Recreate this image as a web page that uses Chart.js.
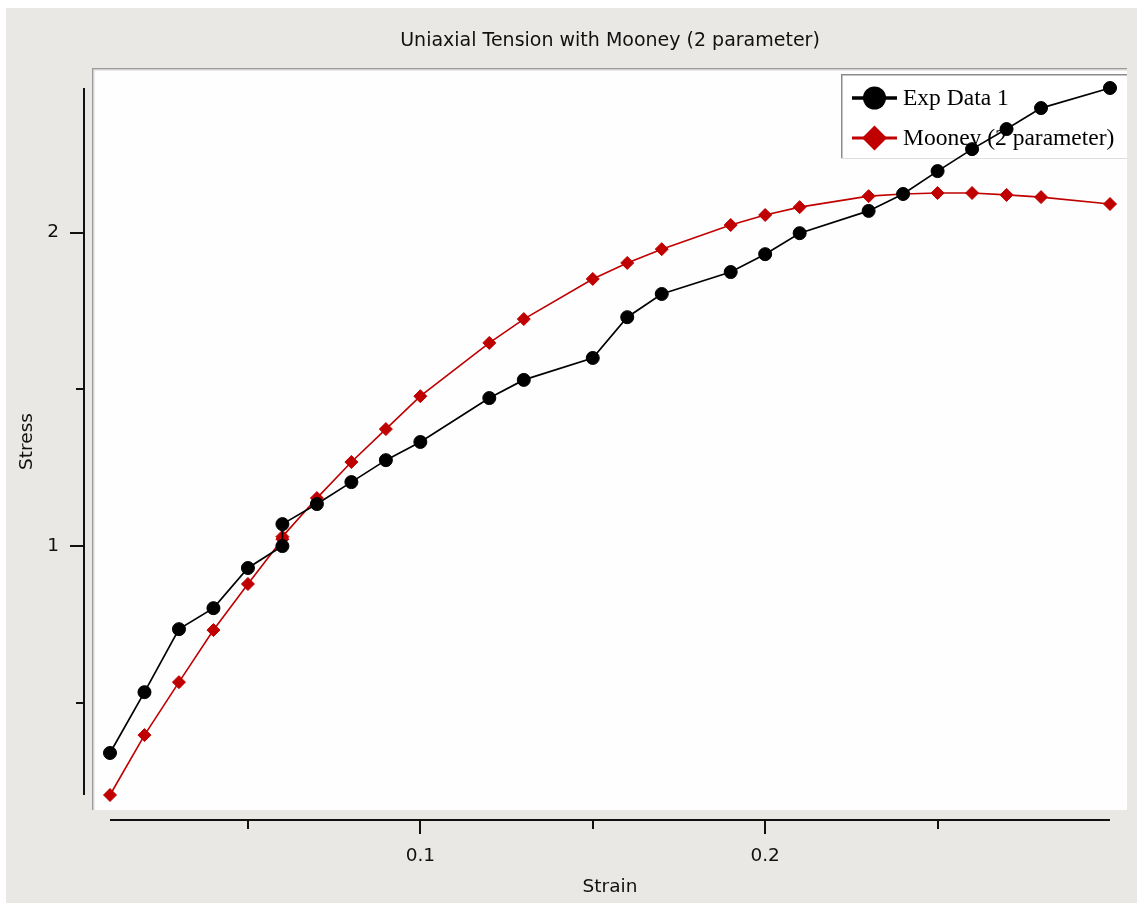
<!DOCTYPE html>
<html><head><meta charset="utf-8">
<style>html,body{margin:0;padding:0;background:#fff;overflow:hidden}canvas{display:block}</style>
<script src="https://cdn.jsdelivr.net/npm/chart.js@4.4.1/dist/chart.umd.min.js"></script>
</head><body>
<canvas id="c" width="1137" height="903"></canvas>
<script>
// ---- data ----
const strain = [0.01,0.02,0.03,0.04,0.05,0.06,0.06,0.07,0.08,0.09,0.10,0.12,0.13,0.15,0.16,0.17,0.19,0.20,0.21,0.23,0.24,0.25,0.26,0.27,0.28,0.30];
const expData = [0.340,0.534,0.735,0.802,0.930,1.000,1.070,1.134,1.204,1.274,1.332,1.472,1.530,1.600,1.730,1.804,1.874,1.931,1.998,2.069,2.123,2.196,2.266,2.330,2.397,2.461];
const mooneyData = [0.206,0.397,0.566,0.732,0.879,1.022,1.030,1.153,1.268,1.373,1.478,1.648,1.724,1.852,1.903,1.947,2.024,2.056,2.081,2.116,2.123,2.126,2.126,2.120,2.113,2.091];
const seriesLabels = ['Exp Data 1', 'Mooney (2 parameter)'];
const xMajorTicks = [0.1, 0.2];
const xTickLabels = ['0.1', '0.2'];
const xMinorTicks = [0.05, 0.15, 0.25];
const yMajorTicks = [1, 2];
const yTickLabels = ['1', '2'];
const yMinorTicks = [0.5, 1.5];
const chartTitle = 'Uniaxial Tension with Mooney (2 parameter)';
const xTitle = 'Strain';
const yTitle = 'Stress';

const SANS = "'DejaVu Sans', Verdana, sans-serif";
const SERIF = "'Liberation Serif', 'Times New Roman', serif";
Chart.defaults.font.family = SANS;
Chart.defaults.color = '#111';

const allY = expData.concat(mooneyData);
const toXY = ys => strain.map((x, i) => ({x: x, y: ys[i]}));
const tickList = (major, minor) => major.map(v => ({value: v, major: true}))
  .concat(minor.map(v => ({value: v, major: false})))
  .sort((p, q) => p.value - q.value);

const framePlugin = {
  id: 'frame',
  beforeDraw(chart) {
    const {ctx, chartArea: a, width, height} = chart;
    ctx.save();
    ctx.fillStyle = '#ffffff'; ctx.fillRect(0, 0, width, height);
    ctx.fillStyle = '#e9e8e4'; ctx.fillRect(6, 8, width - 6, height - 8);
    const L = a.left - 18, T = a.top - 20, R = a.right + 17, B = a.bottom + 15;
    ctx.fillStyle = '#fefefe'; ctx.fillRect(L, T, R - L, B - T);
    ctx.fillStyle = '#9a9a9a'; ctx.fillRect(L, T, R - L, 1.5); ctx.fillRect(L, T, 1.5, B - T);
    ctx.fillStyle = '#d6d6d6'; ctx.fillRect(L + 1.5, T + 1.5, R - L - 1.5, 1); ctx.fillRect(L + 1.5, T + 1.5, 1, B - T - 1.5);
    ctx.restore();
  },
  beforeDatasetsDraw(chart) {
    // legend box (drawn beneath the data, as in the reference)
    const {ctx, chartArea: a} = chart;
    const L = a.right - 269, T = a.top - 14, R = a.right + 17, B = a.top + 71;
    ctx.save();
    ctx.fillStyle = '#ffffff'; ctx.fillRect(L, T, R - L, B - T);
    ctx.fillStyle = '#8c8c8c'; ctx.fillRect(L, T, R - L, 1.5); ctx.fillRect(L, T, 1.5, B - T);
    ctx.fillStyle = '#dedede'; ctx.fillRect(L, B - 1, R - L, 1);
    chart.data.datasets.forEach((ds, i) => {
      const cy = T + 24 + i * 40;
      const x0 = L + 11, x1 = L + 56, cx = (x0 + x1) / 2;
      ctx.strokeStyle = ds.borderColor; ctx.lineWidth = i === 0 ? 3.5 : 3;
      ctx.beginPath(); ctx.moveTo(x0, cy); ctx.lineTo(x1, cy); ctx.stroke();
      ctx.fillStyle = ds.backgroundColor;
      ctx.beginPath();
      if (ds.pointStyle === 'circle') {
        ctx.arc(cx, cy, 11.5, 0, Math.PI * 2);
      } else {
        ctx.moveTo(cx - 12.5, cy); ctx.lineTo(cx, cy - 12.5); ctx.lineTo(cx + 12.5, cy); ctx.lineTo(cx, cy + 12.5); ctx.closePath();
      }
      ctx.fill();
      ctx.fillStyle = '#000';
      ctx.font = '23.5px ' + SERIF;
      ctx.textBaseline = 'middle'; ctx.textAlign = 'left';
      ctx.fillText(ds.label, L + 62, cy + 1);
    });
    ctx.restore();
  },
  afterDraw(chart) {
    const {ctx, chartArea: a} = chart;
    const xs = chart.scales.x, ys = chart.scales.y;
    ctx.save();
    ctx.strokeStyle = '#111'; ctx.lineWidth = 2;
    const axY = a.bottom + 25;
    ctx.beginPath(); ctx.moveTo(a.left, axY); ctx.lineTo(a.right, axY); ctx.stroke();
    xs.ticks.forEach(t => {
      const px = Math.round(xs.getPixelForValue(t.value));
      const len = t.major ? 14 : 9;
      ctx.beginPath(); ctx.moveTo(px, axY); ctx.lineTo(px, axY + len); ctx.stroke();
    });
    const axX = a.left - 26;
    ctx.beginPath(); ctx.moveTo(axX, a.top); ctx.lineTo(axX, a.bottom); ctx.stroke();
    ys.ticks.forEach(t => {
      const py = Math.round(ys.getPixelForValue(t.value));
      const len = t.major ? 14 : 8;
      ctx.beginPath(); ctx.moveTo(axX, py); ctx.lineTo(axX - len, py); ctx.stroke();
    });
    ctx.restore();
  }
};

new Chart(document.getElementById('c'), {
  type: 'line',
  data: {
    datasets: [
      {label: seriesLabels[0], data: toXY(expData), borderColor: '#000000', backgroundColor: '#000000',
       borderWidth: 1.7, pointStyle: 'circle', pointRadius: 6.5, pointHoverRadius: 6.5, pointBorderWidth: 1,
       tension: 0, clip: false, fill: false},
      {label: seriesLabels[1], data: toXY(mooneyData), borderColor: '#c00000', backgroundColor: '#c00000',
       borderWidth: 1.6, pointStyle: 'rectRot', pointRadius: 6.5, pointHoverRadius: 6.5, pointBorderWidth: 1,
       tension: 0, clip: false, fill: false}
    ]
  },
  options: {
    responsive: false,
    animation: false,
    devicePixelRatio: 1,
    layout: {padding: {left: 6, top: 8, right: 27, bottom: 0}},
    plugins: {
      legend: {display: false},
      tooltip: {enabled: false},
      title: {display: true, text: chartTitle, fullSize: false, color: '#111',
              font: {size: 19, weight: 'normal'}, padding: {top: 21.6, bottom: 35.6}}
    },
    scales: {
      x: {
        type: 'linear',
        min: Math.min(...strain), max: Math.max(...strain),
        afterBuildTicks: s => { s.ticks = tickList(xMajorTicks, xMinorTicks); },
        afterFit: s => { s.height = 108; },
        grid: {display: false}, border: {display: false},
        ticks: {autoSkip: false, maxRotation: 0, padding: 42, font: {size: 18.5}, color: '#111',
                callback: v => { const i = xMajorTicks.indexOf(v); return i < 0 ? '' : xTickLabels[i]; }},
        title: {display: true, text: xTitle, color: '#111', font: {size: 18.5}, padding: {top: 0, bottom: 4.6}}
      },
      y: {
        type: 'linear',
        min: Math.min(...allY), max: Math.max(...allY),
        afterBuildTicks: s => { s.ticks = tickList(yMajorTicks, yMinorTicks); },
        afterFit: s => { s.width = 104; },
        grid: {display: false}, border: {display: false},
        ticks: {autoSkip: false, padding: 43, font: {size: 18.5}, color: '#111',
                callback: v => { const i = yMajorTicks.indexOf(v); return i < 0 ? '' : yTickLabels[i]; }},
        title: {display: true, text: yTitle, color: '#111', font: {size: 18.5}, padding: {top: 9.6, bottom: 0}}
      }
    }
  },
  plugins: [framePlugin]
});
</script>
</body></html>
